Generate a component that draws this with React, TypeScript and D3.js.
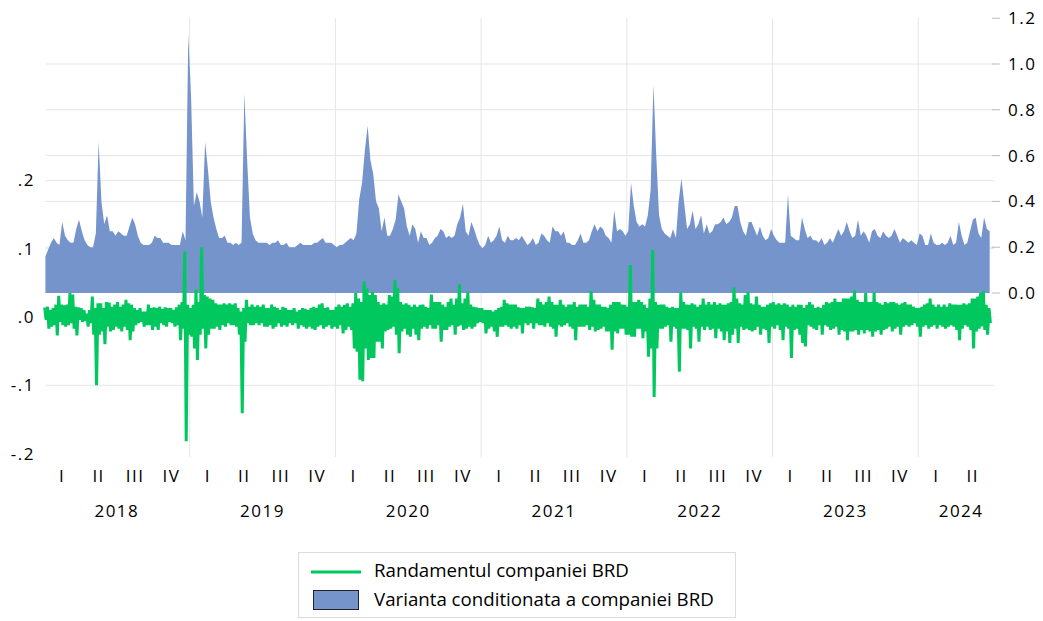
import React, { useEffect, useRef } from "react";
import * as d3 from "d3";

/* Weekly readings, Jan 2018 - Jun 2024 (52 weeks / year, 26 in 2024) */
const years = [2018, 2019, 2020, 2021, 2022, 2023, 2024];

/* conditional variance (right axis), weekly high */
const var2018 = [.16,.19,.22,.24,.22,.21,.31,.25,.23,.22,.22,.28,.32,.27,.23,.21,.20,.20,.26,.66,.40,.30,.34,.27,.27,.25,.27,.26,.25,.25,.29,.33,.30,.25,.22,.21,.21,.21,.22,.25,.24,.24,.22,.22,.22,.21,.21,.21,.21,.27,.23,1.13];
const var2019 = [.85,.38,.44,.40,.33,.66,.54,.40,.33,.28,.24,.24,.25,.22,.22,.21,.22,.21,.22,.87,.58,.33,.26,.23,.22,.22,.22,.22,.21,.22,.22,.23,.21,.21,.22,.20,.20,.20,.21,.22,.21,.21,.21,.21,.22,.22,.23,.24,.22,.22,.22,.21];
const var2020 = [.20,.21,.21,.22,.23,.24,.23,.26,.41,.48,.62,.73,.58,.52,.40,.37,.27,.33,.25,.25,.28,.32,.43,.40,.37,.29,.25,.30,.28,.22,.27,.24,.24,.21,.22,.24,.25,.28,.27,.24,.25,.24,.25,.30,.33,.39,.27,.25,.31,.28,.24,.21];
const var2021 = [.195,.21,.25,.22,.23,.25,.29,.23,.22,.25,.23,.23,.24,.23,.25,.23,.21,.22,.24,.21,.22,.26,.25,.23,.22,.29,.27,.27,.25,.27,.22,.22,.21,.21,.23,.26,.22,.22,.23,.27,.30,.27,.29,.28,.25,.24,.22,.36,.27,.28,.27,.25];
const var2022 = [.27,.48,.38,.31,.29,.30,.29,.34,.45,.91,.60,.34,.28,.26,.25,.24,.28,.24,.40,.50,.39,.28,.30,.36,.28,.30,.34,.26,.30,.26,.27,.30,.30,.31,.33,.30,.31,.33,.38,.38,.31,.27,.25,.31,.31,.28,.25,.29,.25,.23,.24,.28];
const var2023 = [.25,.23,.22,.22,.22,.43,.25,.24,.23,.23,.33,.28,.24,.25,.23,.23,.22,.24,.21,.22,.24,.22,.25,.28,.25,.27,.31,.27,.24,.25,.32,.25,.27,.25,.22,.27,.28,.25,.24,.27,.25,.24,.25,.28,.25,.22,.24,.23,.22,.23,.22,.21];
const var2024 = [.26,.25,.21,.21,.26,.22,.21,.21,.22,.21,.22,.25,.21,.22,.31,.25,.21,.22,.27,.32,.33,.26,.24,.33,.28,.27];

/* returns (left axis), weekly high and low */
const retHi2018 = [.014,.015,.010,.013,.018,.031,.018,.017,.018,.035,.033,.015,.014,.013,.010,.005,.010,.030,.013,.020,.020,.013,.022,.021,.015,.018,.022,.015,.018,.025,.020,.018,.013,.010,.013,.008,.008,.018,.013,.014,.013,.015,.012,.014,.013,.013,.010,.014,.018,.022,.096,.018];
const retLo2018 = [-.004,-.017,-.014,-.012,-.027,-.007,-.012,-.014,-.012,-.009,-.017,-.027,-.004,-.007,-.006,-.014,-.009,-.026,-.100,-.026,-.021,-.040,-.014,-.021,-.019,-.014,-.017,-.021,-.014,-.019,-.034,-.021,-.012,-.009,-.007,-.014,-.012,-.012,-.019,-.014,-.019,-.009,-.012,-.014,-.007,-.009,-.014,-.012,-.034,-.017,-.182,-.026];
const retHi2019 = [.013,.018,.040,.022,.102,.032,.030,.027,.025,.020,.018,.018,.020,.018,.020,.018,.020,.013,.008,.013,.025,.015,.018,.015,.017,.015,.018,.013,.013,.018,.015,.013,.010,.015,.013,.010,.010,.013,.008,.010,.013,.012,.010,.013,.015,.013,.018,.020,.013,.014,.010,.010];
const retLo2019 = [-.029,-.046,-.063,-.026,-.017,-.046,-.026,-.017,-.017,-.014,-.019,-.012,-.014,-.009,-.012,-.012,-.014,-.026,-.141,-.036,-.009,-.012,-.012,-.009,-.012,-.009,-.014,-.014,-.012,-.017,-.014,-.009,-.014,-.012,-.014,-.009,-.012,-.009,-.017,-.012,-.014,-.017,-.014,-.017,-.019,-.014,-.012,-.017,-.014,-.012,-.017,-.014];
const retHi2020 = [.015,.018,.015,.018,.020,.015,.020,.035,.027,.022,.052,.042,.032,.037,.032,.022,.018,.020,.018,.032,.030,.054,.042,.022,.018,.020,.018,.015,.018,.015,.018,.018,.015,.013,.033,.022,.022,.022,.018,.015,.022,.027,.018,.027,.048,.020,.027,.037,.018,.015,.014,.013];
const retLo2020 = [-.017,-.012,-.024,-.019,-.014,-.019,-.046,-.051,-.092,-.094,-.046,-.063,-.060,-.060,-.036,-.036,-.046,-.021,-.019,-.017,-.014,-.026,-.053,-.021,-.017,-.026,-.029,-.017,-.026,-.034,-.017,-.014,-.017,-.012,-.017,-.017,-.012,-.036,-.019,-.019,-.014,-.012,-.026,-.014,-.012,-.019,-.017,-.014,-.017,-.014,-.009,-.007];
const retHi2021 = [.013,.010,.010,.010,.008,.010,.013,.015,.025,.020,.018,.018,.018,.014,.013,.013,.015,.015,.014,.013,.027,.022,.018,.022,.030,.022,.018,.018,.025,.018,.015,.018,.018,.022,.015,.018,.018,.018,.015,.038,.025,.018,.018,.015,.015,.013,.018,.022,.022,.022,.018,.018];
const retLo2021 = [-.009,-.024,-.017,-.014,-.021,-.029,-.014,-.014,-.012,-.014,-.017,-.014,-.017,-.012,-.024,-.009,-.012,-.009,-.017,-.009,-.012,-.012,-.014,-.009,-.014,-.017,-.029,-.012,-.014,-.012,-.009,-.014,-.017,-.034,-.014,-.014,-.014,-.012,-.019,-.014,-.021,-.019,-.017,-.014,-.021,-.021,-.048,-.021,-.024,-.017,-.017,-.026];
const retHi2022 = [.015,.076,.022,.022,.025,.022,.018,.013,.027,.098,.022,.018,.018,.018,.015,.013,.015,.013,.013,.036,.022,.018,.018,.020,.018,.015,.018,.027,.018,.022,.018,.022,.018,.020,.018,.018,.020,.022,.043,.027,.020,.018,.032,.037,.020,.018,.030,.018,.015,.015,.018,.020];
const retLo2022 = [-.026,-.029,-.029,-.017,-.017,-.031,-.021,-.058,-.046,-.117,-.046,-.017,-.017,-.014,-.012,-.036,-.014,-.017,-.080,-.017,-.017,-.019,-.046,-.014,-.017,-.036,-.014,-.019,-.014,-.019,-.017,-.031,-.017,-.021,-.034,-.021,-.038,-.026,-.017,-.038,-.014,-.019,-.017,-.019,-.021,-.019,-.014,-.026,-.017,-.019,-.038,-.014];
const retHi2023 = [.022,.018,.020,.018,.020,.018,.015,.018,.015,.018,.018,.013,.018,.022,.018,.013,.015,.013,.018,.022,.020,.022,.027,.022,.022,.027,.027,.027,.030,.039,.025,.022,.022,.035,.022,.022,.036,.022,.020,.018,.022,.020,.022,.022,.020,.018,.020,.022,.018,.018,.015,.013];
const retLo2023 = [-.017,-.012,-.019,-.034,-.014,-.017,-.060,-.019,-.017,-.026,-.038,-.043,-.012,-.014,-.017,-.019,-.012,-.026,-.012,-.014,-.019,-.017,-.014,-.026,-.019,-.021,-.034,-.021,-.021,-.019,-.026,-.019,-.024,-.019,-.021,-.029,-.021,-.019,-.026,-.019,-.017,-.014,-.021,-.017,-.014,-.026,-.014,-.012,-.014,-.012,-.009,-.014];
const retHi2024 = [.013,.015,.018,.020,.027,.018,.015,.018,.015,.018,.015,.020,.018,.018,.018,.018,.020,.018,.020,.027,.027,.030,.035,.038,.018,.013];
const retLo2024 = [-.029,-.014,-.012,-.017,-.014,-.012,-.017,-.012,-.014,-.017,-.014,-.012,-.014,-.019,-.034,-.017,-.012,-.014,-.019,-.046,-.021,-.017,-.014,-.019,-.026,-.009];

const varByYear = [var2018, var2019, var2020, var2021, var2022, var2023, var2024];
const hiByYear = [retHi2018, retHi2019, retHi2020, retHi2021, retHi2022, retHi2023, retHi2024];
const loByYear = [retLo2018, retLo2019, retLo2020, retLo2021, retLo2022, retLo2023, retLo2024];

const leftTicks = [-0.2, -0.1, 0, 0.1, 0.2];
const leftLabels = ["-.2", "-.1", ".0", ".1", ".2"];
const rightTicks = [0, 0.2, 0.4, 0.6, 0.8, 1.0, 1.2];
const quarterLabels = ["I", "II", "III", "IV"];
const legendLabels = ["Randamentul companiei BRD", "Varianta conditionata a companiei BRD"];

const App = () => {
  const ref = useRef<SVGSVGElement>(null);

  useEffect(() => {
    const width = 1043;
    const height = 621;
    const top = 18;
    const bottom = 457;
    const left = 44;
    const right = 994;
    const font = "'Open Sans', sans-serif";
    const green = "#00C85F";
    const blue = "#7494CB";
    const grid = "#E6E6E6";
    const fs = 17;
    const ls = 1.5;

    const svg = d3.select(ref.current).attr("width", width).attr("height", height);
    svg.selectAll("*").remove();

    /* time scale in fractional years */
    const x = d3.scaleLinear().domain([2018, 2024.52]).range([left, right]);
    const yL = d3.scaleLinear().domain([-0.205, 0.4378]).range([bottom, top]);
    const yR = d3.scaleLinear().domain([-0.716, 1.2009]).range([bottom, top]);

    /* flatten weekly data */
    const varData: { t: number; v: number }[] = [];
    const retData: { t: number; r: number }[] = [];
    years.forEach((yr, yi) => {
      varByYear[yi].forEach((v, i) => {
        const t = yr + (i + 0.5) / 52;
        varData.push({ t, v });
        retData.push({ t: t - 0.25 / 52, r: hiByYear[yi][i] });
        retData.push({ t: t + 0.25 / 52, r: loByYear[yi][i] });
      });
    });

    const plotRight = x(2024) + (x(2025) - x(2024)) * 0.52;

    /* grid */
    const g = svg.append("g");
    [0.2, 0.4, 0.6, 0.8, 1.0].forEach((v) => {
      g.append("line").attr("x1", x(2018.01)).attr("x2", plotRight)
        .attr("y1", yR(v)).attr("y2", yR(v)).attr("stroke", grid).attr("stroke-width", 1);
    });
    [-0.1, 0, 0.1, 0.2].forEach((v) => {
      g.append("line").attr("x1", x(2018.01)).attr("x2", plotRight)
        .attr("y1", yL(v)).attr("y2", yL(v)).attr("stroke", grid).attr("stroke-width", 1);
    });
    years.slice(1).forEach((yr) => {
      g.append("line").attr("x1", x(yr)).attr("x2", x(yr))
        .attr("y1", top).attr("y2", bottom).attr("stroke", grid).attr("stroke-width", 1);
    });

    /* variance area */
    const area = d3.area<{ t: number; v: number }>()
      .x((d) => x(d.t))
      .y0(yR(0))
      .y1((d) => yR(d.v));
    svg.append("path").datum(varData).attr("d", area).attr("fill", blue);

    /* returns line */
    const line = d3.line<{ t: number; r: number }>()
      .x((d) => x(d.t))
      .y((d) => yL(d.r));
    svg.append("path").datum(retData).attr("d", line)
      .attr("fill", "none").attr("stroke", green).attr("stroke-width", 3)
      .attr("stroke-linejoin", "miter").attr("stroke-miterlimit", 2);

    /* left axis labels */
    leftTicks.forEach((v, i) => {
      svg.append("text").text(leftLabels[i])
        .attr("x", 35).attr("y", yL(v) + 6)
        .attr("text-anchor", "end").attr("font-family", font)
        .attr("font-size", fs).attr("letter-spacing", ls).attr("fill", "#000");
    });

    /* right axis ticks + labels */
    rightTicks.forEach((v) => {
      svg.append("line").attr("x1", 992).attr("x2", 1000)
        .attr("y1", yR(v)).attr("y2", yR(v)).attr("stroke", "#BBBBBB");
      svg.append("text").text(v.toFixed(1))
        .attr("x", 1008).attr("y", yR(v) + 6)
        .attr("font-family", font).attr("font-size", fs)
        .attr("letter-spacing", ls).attr("fill", "#000");
    });

    /* quarter + year labels */
    years.forEach((yr, yi) => {
      const nq = yi === years.length - 1 ? 2 : 4;
      for (let q = 0; q < nq; q++) {
        svg.append("text").text(quarterLabels[q])
          .attr("x", x(yr + (q + 0.5) / 4)).attr("y", 482)
          .attr("text-anchor", "middle").attr("font-family", font)
          .attr("font-size", fs).attr("letter-spacing", ls).attr("fill", "#000");
      }
      const cx = yi === years.length - 1 ? (x(yr) + plotRight) / 2 + 5 : x(yr + 0.5);
      svg.append("text").text(String(yr))
        .attr("x", cx).attr("y", 517)
        .attr("text-anchor", "middle").attr("font-family", font)
        .attr("font-size", fs).attr("letter-spacing", ls).attr("fill", "#000");
    });

    /* legend */
    const lg = svg.append("g");
    lg.append("rect").attr("x", 298.5).attr("y", 552.5).attr("width", 437).attr("height", 65)
      .attr("fill", "white").attr("stroke", "#DCDCDC");
    lg.append("line").attr("x1", 311).attr("x2", 361).attr("y1", 572).attr("y2", 572)
      .attr("stroke", green).attr("stroke-width", 3);
    lg.append("rect").attr("x", 313.5).attr("y", 590.5).attr("width", 45).attr("height", 19)
      .attr("fill", blue).attr("stroke", "#222").attr("stroke-width", 1);
    legendLabels.forEach((t, i) => {
      lg.append("text").text(t).attr("x", 374).attr("y", 577 + i * 28.5)
        .attr("font-family", font).attr("font-size", 18.7).attr("fill", "#000");
    });
  }, []);

  return <svg ref={ref} style={{ position: "absolute", left: 0, top: 0 }} />;
};

export default App;
